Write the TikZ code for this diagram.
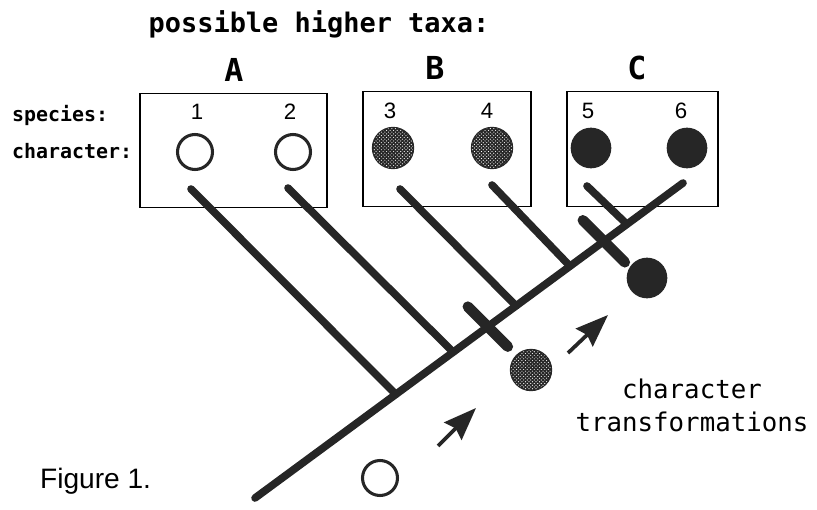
\documentclass[tikz,border=0pt]{standalone}
\usepackage{fontspec}
\setmainfont{Liberation Sans}
\newfontfamily\macfont{DejaVu Sans Mono}
\usetikzlibrary{calc,arrows.meta,patterns}
\colorlet{ink}{black!85}
\tikzset{
  branch/.style={ink,line width=6.5pt,line cap=round},
  charbar/.style={ink,line width=9pt,line cap=round},
  taxbox/.style={draw,rectangle,line width=1pt,minimum height=3.43cm},
  plesio/.style={circle,draw=ink,line width=2.6pt,fill=white,minimum size=1.05cm,inner sep=0pt},
  stipple/.style={circle,draw=ink,line width=2pt,fill=ink,minimum size=1.2cm,inner sep=0pt,postaction={pattern=crosshatch dots,pattern color=white}},
  apo/.style={circle,fill=ink,minimum size=1.22cm,inner sep=0pt},
  arr/.style={ink,line width=3.2pt,arrows={-Stealth[scale=1.6,inset=2pt]}},
  lab/.style={font=\macfont\bfseries\fontsize{17}{18}\selectfont},
  big/.style={font=\macfont\bfseries\fontsize{23}{26}\selectfont}
}
\begin{document}
\begin{tikzpicture}[x=0.03cm,y=-0.03cm]
\useasboundingbox (0,0) rectangle (817,510);
\node[big] (title) at (319,24) {possible higher taxa:};
\node[taxbox,minimum width=5.61cm] (A) at (233.5,150.5) {};
\node[taxbox,minimum width=5.04cm] (B) at (447,149) {};
\node[taxbox,minimum width=4.53cm] (C) at (642.5,149) {};
\node[big,font=\macfont\bfseries\fontsize{27}{30}\selectfont] (lA) at (234,70) {A};
\node[big,font=\macfont\bfseries\fontsize{27}{30}\selectfont] (lB) at (435,68) {B};
\node[big,font=\macfont\bfseries\fontsize{27}{30}\selectfont] (lC) at (637,68) {C};
\node[lab,anchor=west] (sp) at (8,115) {species:};
\node[lab,anchor=west] (ch) at (8,151) {character:};
\begin{scope}[font=\fontsize{19}{21}\selectfont]
  \node (n1) at (197,112) {1};
  \node (n2) at (290,112) {2};
  \node (n3) at (390,111) {3};
  \node (n4) at (487,111) {4};
  \node (n5) at (588,111) {5};
  \node (n6) at (681,111) {6};
\end{scope}
\node[plesio] (c1) at (195,152) {};
\node[plesio] (c2) at (293,152) {};
\node[stipple] (c3) at (393,148) {};
\node[stipple] (c4) at (492,148) {};
\node[apo] (c5) at (591,148) {};
\node[apo] (c6) at (687,148) {};
\coordinate (root) at (255,498);
\coordinate (top) at (683,183);
\draw[branch] (root) -- (top);
\foreach \t [count=\i] in {0.329,0.463,0.610,0.736,0.869}
  \coordinate (j\i) at ($(root)!\t!(top)$);
\coordinate (b1) at (191,189);
\coordinate (b2) at (288,188);
\coordinate (b3) at (400,189);
\coordinate (b4) at (492,185);
\coordinate (b5) at (587,186);
\foreach \i in {1,...,5}
  \draw[branch] (b\i) -- (j\i);
\coordinate (k1) at ($(root)!0.544!(top)$);
\coordinate (k2) at ($(root)!0.815!(top)$);
\draw[charbar] ($(k1)+(-20,-20)$) -- ($(k1)+(20,20)$);
\draw[charbar] ($(k2)+(-21,-21)$) -- ($(k2)+(21,21)$);
\node[plesio] (s0) at (380,478) {};
\node[stipple] (s1) at (531,370) {};
\node[apo] (s2) at (647,278) {};
\coordinate (a1s) at (438,446);
\coordinate (a1e) at (476,408);
\coordinate (a2s) at (568,353);
\coordinate (a2e) at (608,315);
\draw[arr] (a1s) -- (a1e);
\draw[arr] (a2s) -- (a2e);
\node[font=\macfont\fontsize{22}{28}\selectfont,align=center] (trans) at (692,405) {character\\transformations};
\node[anchor=west,font=\fontsize{24}{28}\selectfont] (fig) at (36,481) {Figure 1.};
\end{tikzpicture}
\end{document}
